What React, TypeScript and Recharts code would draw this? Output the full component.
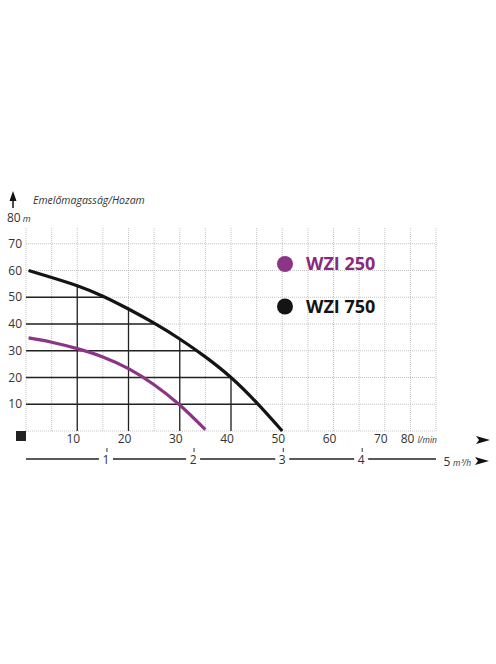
import { ComposedChart, Line, XAxis, YAxis, ReferenceLine } from "recharts";

// flow in l/min, head in m
const flowTicks = [10, 20, 30, 40, 50, 60, 70, 80];
const headTicks = [0, 10, 20, 30, 40, 50, 60, 70, 80];
const gridFlow = [0, 5, 10, 15, 20, 25, 30, 35, 40, 45, 50, 55, 60, 65, 70, 75, 80];
const gridHead = [0, 10, 20, 30, 40, 50, 60, 70];
const m3Labels = ["1", "2", "3", "4"];
const m3Pos = [15.6, 32.6, 50, 65.4];

const wzi250 = [
  { q: 0.5, h: 34.8 },
  { q: 5, h: 33.2 },
  { q: 10, h: 30.8 },
  { q: 15, h: 27.7 },
  { q: 20, h: 23.3 },
  { q: 25, h: 17.3 },
  { q: 30, h: 9.7 },
  { q: 35, h: 0.5 },
];

const wzi750 = [
  { q: 0.5, h: 60 },
  { q: 5, h: 57.4 },
  { q: 10, h: 54.3 },
  { q: 15, h: 50.4 },
  { q: 20, h: 45.6 },
  { q: 25, h: 40.3 },
  { q: 30, h: 34.4 },
  { q: 35, h: 27.7 },
  { q: 40, h: 20 },
  { q: 45, h: 10.6 },
  { q: 50, h: 0 },
];

// solid guide lines down to / across from the WZI 750 curve
const dropVertical = [
  { q: 10, h: 54.3 },
  { q: 20, h: 45.6 },
  { q: 30, h: 34.4 },
  { q: 40, h: 20 },
];
const dropHorizontal = [
  { h: 10, q: 45.3 },
  { h: 20, q: 40 },
  { h: 30, q: 33.3 },
  { h: 40, q: 25.3 },
  { h: 50, q: 15.5 },
];

const series = [
  { name: "WZI 250", color: "#8c3486", text: "#8a2a7f", data: wzi250 },
  { name: "WZI 750", color: "#141414", text: "#141414", data: wzi750 },
];

const FONT = "'Open Sans', sans-serif";
const INK = "#333";

function YTick({ y, payload }: any) {
  const v = payload.value;
  if (v === 0) return <rect x={16} y={y} width={10} height={10} fill="#222" />;
  if (v === 80)
    return (
      <text x={7} y={y + 5} fontSize={12} fill={INK} fontFamily={FONT}>
        80
        <tspan fontStyle="italic" fontSize={9} dx={2}>m</tspan>
      </text>
    );
  return (
    <text x={22} y={y + 4} textAnchor="end" fontSize={12} fill={INK} fontFamily={FONT}>
      {v}
    </text>
  );
}

function XTick({ x, y, payload }: any) {
  const v = payload.value;
  if (v === 80)
    return (
      <text x={x + 1} y={y + 12} textAnchor="end" fontSize={12} fill={INK} fontFamily={FONT}>
        80
        <tspan fontStyle="italic" fontSize={8.5} dx={3}>l/min</tspan>
      </text>
    );
  return (
    <text x={x - 4} y={y + 12} textAnchor="middle" fontSize={12} fill={INK} fontFamily={FONT}>
      {v}
    </text>
  );
}

function M3Tick({ x, y, payload }: any) {
  const i = m3Pos.findIndex((p) => Math.abs(p - payload.value) < 0.01);
  return (
    <g>
      <rect x={x - 7} y={y - 7} width={14} height={14} fill="#fff" />
      <line x1={x + 1} x2={x + 1} y1={y - 11} y2={y - 7} stroke={INK} strokeWidth={1} />
      <text x={x} y={y + 5} textAnchor="middle" fontSize={12} fill={INK} fontFamily={FONT}>
        {m3Labels[i]}
      </text>
    </g>
  );
}

function Arrow({ x, y }: { x: number; y: number }) {
  return <polygon points={`${x},${y} ${x - 14},${y - 4} ${x - 11},${y} ${x - 14},${y + 4}`} fill="#111" />;
}

export default function App() {
  return (
    <div style={{ position: "absolute", left: 0, top: 0, width: 496, height: 664, background: "#fff" }}>
      <ComposedChart width={496} height={664} margin={{ top: 217, right: 60, bottom: 203 - 28, left: 0 }}>
        <XAxis
          type="number"
          dataKey="q"
          domain={[0, 80]}
          ticks={flowTicks}
          axisLine={false}
          tickLine={false}
          tickSize={0}
          tickMargin={0}
          height={28}
          tick={<XTick />}
          interval={0}
        />
        <XAxis
          xAxisId="m3"
          type="number"
          dataKey="q"
          domain={[0, 80]}
          allowDataOverflow
          ticks={m3Pos}
          axisLine={{ stroke: "#222", strokeWidth: 1.3 }}
          tickLine={false}
          tickSize={0}
          tickMargin={0}
          height={30}
          tick={(props: any) => <M3Tick {...props} />}
          interval={0}
        />
        <YAxis
          type="number"
          domain={[0, 80]}
          ticks={headTicks}
          axisLine={false}
          tickLine={false}
          width={26}
          tick={<YTick />}
          interval={0}
        />
        {gridFlow.map((q) => (
          <ReferenceLine
            key={"gx" + q}
            segment={[{ x: q, y: 0 }, { x: q, y: 76 }]}
            stroke="#b5b5b5"
            strokeWidth={0.8}
            strokeDasharray="1 1"
          />
        ))}
        {gridHead.map((h) => (
          <ReferenceLine
            key={"gy" + h}
            segment={[{ x: 0, y: h }, { x: 80, y: h }]}
            stroke="#b5b5b5"
            strokeWidth={0.8}
            strokeDasharray="1 1"
          />
        ))}
        {dropVertical.map((d) => (
          <ReferenceLine key={"dv" + d.q} segment={[{ x: d.q, y: 0 }, { x: d.q, y: d.h }]} stroke="#222" strokeWidth={1.3} />
        ))}
        {dropHorizontal.map((d) => (
          <ReferenceLine key={"dh" + d.h} segment={[{ x: 0, y: d.h }, { x: d.q, y: d.h }]} stroke="#222" strokeWidth={1.3} />
        ))}
        {series.map((s) => (
          <Line
            key={s.name}
            data={s.data}
            dataKey="h"
            name={s.name}
            type="natural"
            stroke={s.color}
            strokeWidth={3.2}
            dot={false}
            isAnimationActive={false}
          />
        ))}
      </ComposedChart>
      <svg width={496} height={664} style={{ position: "absolute", left: 0, top: 0, pointerEvents: "none" }}>
        <polygon points="13,191 9.5,201 16.5,201" fill="#111" />
        <line x1={13} x2={13} y1={200} y2={208} stroke="#111" strokeWidth={1.5} />
        <text x={33} y={204} fontSize={10.5} fontStyle="italic" fill={INK} fontFamily={FONT}>
          Emelőmagasság/Hozam
        </text>
        <Arrow x={490} y={440} />
        <Arrow x={489} y={461} />
        <text x={447} y={466} textAnchor="middle" fontSize={12} fill={INK} fontFamily={FONT}>
          5
        </text>
        <text x={453} y={466} fontSize={8.5} fontStyle="italic" fill={INK} fontFamily={FONT}>
          m³/h
        </text>
        {series.map((s, i) => (
          <g key={s.name}>
            <circle cx={285} cy={264 + i * 42.5} r={8} fill={s.color} />
            <text x={306} y={270 + i * 42.5} fontSize={18} fontWeight={700} fill={s.text} fontFamily={FONT}>
              {s.name}
            </text>
          </g>
        ))}
      </svg>
    </div>
  );
}
